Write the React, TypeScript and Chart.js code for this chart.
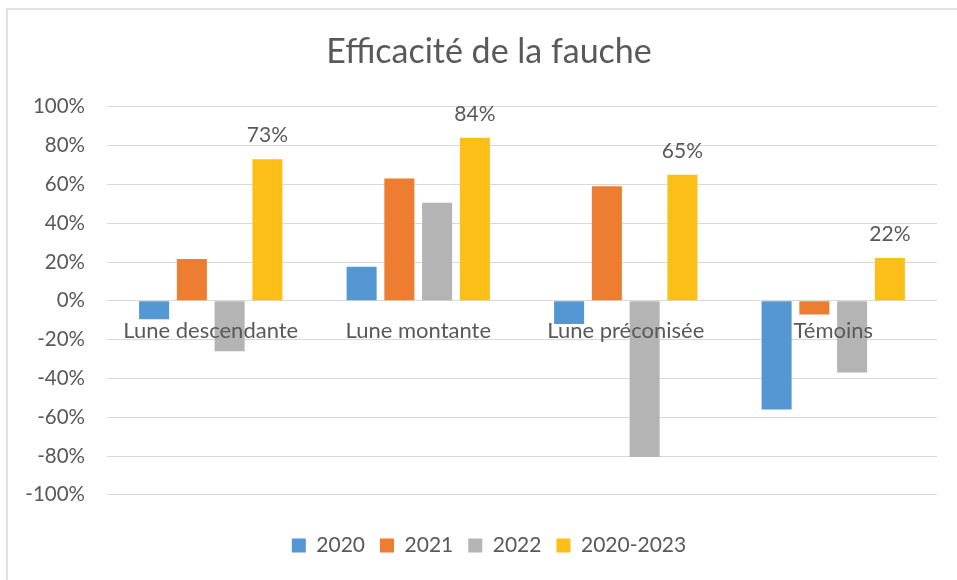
import React, { useEffect, useRef } from "react";
import { Chart, registerables } from "chart.js";

Chart.register(...registerables);

const categories = ["Lune descendante", "Lune montante", "Lune préconisée", "Témoins"];
const seriesNames = ["2020", "2021", "2022", "2020-2023"];
const values2020 = [-9.5, 17.6, -12, -56];
const values2021 = [21.5, 63, 59, -7];
const values2022 = [-26, 50.5, -80.5, -37];
const values2020_2023 = [73, 84, 65, 22];
const seriesColors = ["#5597D3", "#ED7D31", "#B4B4B4", "#FCBF17"];
const yMin = -100;
const yMax = 100;
const yStep = 20;

const FONT = "Lato, 'Liberation Sans', sans-serif";
const TEXT = "#595959";

const dataLabelPlugin = {
  id: "dataLabels",
  afterDatasetsDraw(chart: any) {
    const ctx = chart.ctx;
    const meta = chart.getDatasetMeta(3);
    const ds = chart.data.datasets[3];
    ctx.save();
    ctx.font = `21px ${FONT}`;
    ctx.fillStyle = TEXT;
    ctx.textAlign = "center";
    ctx.textBaseline = "alphabetic";
    meta.data.forEach((el: any, i: number) => {
      ctx.fillText(Math.round(ds.data[i]) + "%", el.x, el.y - 17);
    });
    ctx.restore();
  },
};

export default function App() {
  const ref = useRef<HTMLCanvasElement | null>(null);
  useEffect(() => {
    if (!ref.current) return;
    const all = [values2020, values2021, values2022, values2020_2023];
    const chart = new Chart(ref.current, {
      type: "bar",
      data: {
        labels: categories,
        datasets: all.map((d, i) => ({
          label: seriesNames[i],
          data: d,
          backgroundColor: seriesColors[i],
          borderWidth: 0,
          categoryPercentage: 0.728,
          barPercentage: 0.795,
        })),
      },
      options: {
        animation: false,
        responsive: true,
        maintainAspectRatio: false,
        layout: { padding: { left: 0, right: 0, top: 0, bottom: 14 } },
        plugins: {
          title: {
            display: true,
            text: "Efficacité de la fauche",
            color: TEXT,
            font: { family: FONT, size: 34, weight: "normal" },
            padding: { top: 22, bottom: 34 },
          },
          legend: {
            position: "bottom",
            title: { display: true, text: "", padding: { top: 24, bottom: 0 }, font: { size: 1 } },
            labels: {
              boxWidth: 14,
              boxHeight: 14,
              padding: 15,
              color: TEXT,
              font: { family: FONT, size: 21 },
            },
          },
          tooltip: { enabled: false },
        },
        scales: {
          x: {
            type: "category",
            position: { y: 0 } as any,
            grid: { display: false, drawTicks: false },
            border: { display: false },
            ticks: { z: 1, color: TEXT, font: { family: FONT, size: 22 }, padding: 17 },
          },
          y: {
            min: yMin,
            max: yMax,
            ticks: {
              stepSize: yStep,
              color: TEXT,
              padding: 22,
              font: { family: FONT, size: 20.5 },
              callback: (v: any) => v + "%",
            },
            grid: { color: "#D9D9D9", lineWidth: 1, drawTicks: false },
            border: { display: false },
            afterFit: (s: any) => {
              s.width = 99;
            },
          } as any,
          yRight: {
            position: "right",
            min: yMin,
            max: yMax,
            grid: { display: false, drawTicks: false },
            border: { display: false },
            ticks: { display: false },
            afterFit: (s: any) => {
              s.width = 33;
            },
          } as any,
        },
      },
      plugins: [dataLabelPlugin],
    });
    return () => chart.destroy();
  }, []);

  return (
    <div style={{ position: "absolute", left: 0, top: 0, width: 957, height: 580, overflow: "hidden", background: "#fff" }}>
      <div
        style={{
          position: "absolute",
          left: 6,
          top: 8,
          width: 966,
          height: 600,
          borderLeft: "2px solid #E2E2E2",
          borderTop: "2px solid #E2E2E2",
          boxSizing: "border-box",
        }}
      />
      <div style={{ position: "absolute", left: 8, top: 10, width: 962, height: 570 }}>
        <canvas ref={ref} />
      </div>
    </div>
  );
}
